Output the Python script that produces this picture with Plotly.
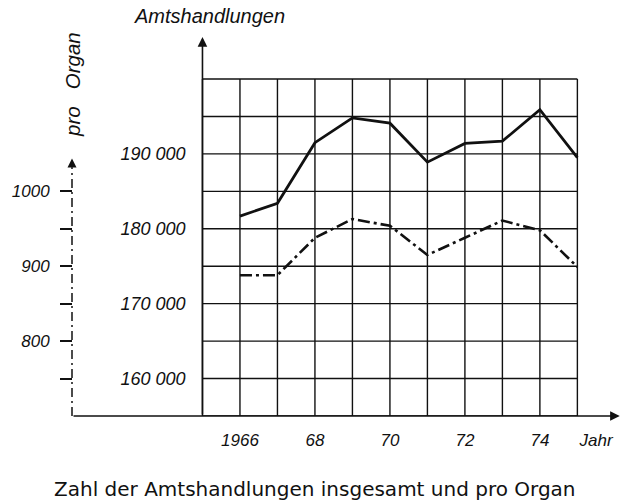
import plotly.graph_objects as go

# ---- data ----
years = [1966, 1967, 1968, 1969, 1970, 1971, 1972, 1973, 1974, 1975]
amtshandlungen = [181700, 183400, 191500, 194800, 194100, 188900, 191400, 191700, 195900, 189500]
pro_organ = [888, 888, 938, 963, 954, 915, 938, 961, 948, 899]

x_tickvals = [1966, 1968, 1970, 1972, 1974, 1975.5]
x_ticktext = ["1966", "68", "70", "72", "74", "Jahr"]
a_tickvals = [160000, 170000, 180000, 190000]
a_ticktext = ["160 000", "170 000", "180 000", "190 000"]
p_tickvals = [750, 800, 850, 900, 950, 1000]
p_ticktext = ["", "800", "", "900", "", "1000"]

grid_years = list(range(1965, 1976))
grid_levels = list(range(155000, 200001, 5000))

# ---- scales ----
X0, X1 = 1961.2, 1976.19
A0, A1 = 155000, 206543
P0 = 700
P1 = P0 + (A1 - A0) / 100
AXIS_A_X = 1965
AXIS_P_X = 1961.52

ink = "#111111"
tick_font = dict(family="Liberation Sans", size=17, color=ink, style="italic")
atick_font = dict(family="Liberation Sans", size=18, color=ink, style="italic")

fig = go.Figure()
fig.add_trace(go.Scatter(x=years, y=amtshandlungen, mode="lines",
                         line=dict(color=ink, width=2.8), yaxis="y", showlegend=False))
fig.add_trace(go.Scatter(x=years, y=pro_organ, mode="lines",
                         line=dict(color=ink, width=2.6, dash="12px,4px,3px,4px"),
                         yaxis="y2", showlegend=False))

shapes = []
for gx in grid_years:
    shapes.append(dict(type="line", xref="x", yref="y", x0=gx, x1=gx,
                       y0=grid_levels[0], y1=grid_levels[-1],
                       line=dict(color=ink, width=1.4), layer="below"))
for gy in grid_levels:
    shapes.append(dict(type="line", xref="x", yref="y", x0=grid_years[0], x1=grid_years[-1],
                       y0=gy, y1=gy, line=dict(color=ink, width=1.4), layer="below"))
# left dash-dot axis
shapes.append(dict(type="line", xref="x", yref="y2", x0=AXIS_P_X, x1=AXIS_P_X,
                   y0=P0, y1=1032, line=dict(color=ink, width=1.5, dash="9px,4px,2px,4px")))

annotations = [
    # x axis arrow
    dict(x=1976.13, y=A0, ax=AXIS_P_X, ay=A0, xref="x", yref="y", axref="x", ayref="y",
         text="", showarrow=True, arrowhead=2, arrowsize=1.2, arrowwidth=1.6, arrowcolor=ink),
    # Amtshandlungen axis arrow
    dict(x=AXIS_A_X, y=205600, ax=AXIS_A_X, ay=A0, xref="x", yref="y", axref="x", ayref="y",
         text="", showarrow=True, arrowhead=2, arrowsize=1.2, arrowwidth=1.6, arrowcolor=ink),
    # pro Organ axis arrow
    dict(x=AXIS_P_X, y=1044, ax=AXIS_P_X, ay=1030, xref="x", yref="y2", axref="x", ayref="y2",
         text="", showarrow=True, arrowhead=2, arrowsize=1.2, arrowwidth=1.5, arrowcolor=ink),
    dict(text="<i>Amtshandlungen</i>", xref="paper", yref="paper", x=(210 - 60) / 562,
         y=(416 - 16) / 386, showarrow=False,
         font=dict(family="Liberation Sans", size=20, color=ink),
         xanchor="center", yanchor="middle"),
    dict(text="<i>pro\u00a0\u00a0 Organ</i>", xref="paper", yref="paper", x=(73 - 60) / 562,
         y=(416 - 85) / 386, textangle=-90, showarrow=False,
         font=dict(family="Liberation Sans", size=20.5, color=ink),
         xanchor="center", yanchor="middle"),
    dict(text="Zahl der Amtshandlungen insgesamt und pro Organ", xref="paper", yref="paper",
         x=(315 - 60) / 562, y=(416 - 489) / 386, showarrow=False,
         font=dict(family="DejaVu Sans", size=20, color=ink),
         xanchor="center", yanchor="middle"),
]

fig.update_layout(
    width=622, height=503,
    margin=dict(l=60, r=0, t=30, b=87),
    paper_bgcolor="white", plot_bgcolor="white",
    showlegend=False,
    xaxis=dict(range=[X0, X1], domain=[0, 1], showline=False, showgrid=False, zeroline=False,
               tickvals=x_tickvals, ticktext=x_ticktext, ticks="", ticklabelstandoff=12,
               tickfont=tick_font, anchor="y"),
    yaxis=dict(range=[A0, A1], anchor="free", position=(AXIS_A_X - X0) / (X1 - X0),
               showline=False, showgrid=False, zeroline=False,
               tickvals=a_tickvals, ticktext=a_ticktext, ticks="", ticklabelstandoff=17,
               tickfont=atick_font),
    yaxis2=dict(range=[P0, P1], overlaying="y", anchor="free", side="left",
                position=(AXIS_P_X - X0) / (X1 - X0),
                showline=False, showgrid=False, zeroline=False,
                tickvals=p_tickvals, ticktext=p_ticktext, ticks="outside", ticklen=12,
                tickwidth=1.5, tickcolor=ink, ticklabelstandoff=7, tickfont=tick_font),
    shapes=shapes,
    annotations=annotations,
)

fig.write_html("out.html", config={"displayModeBar": False},
               post_script="document.body.style.margin='0';")
